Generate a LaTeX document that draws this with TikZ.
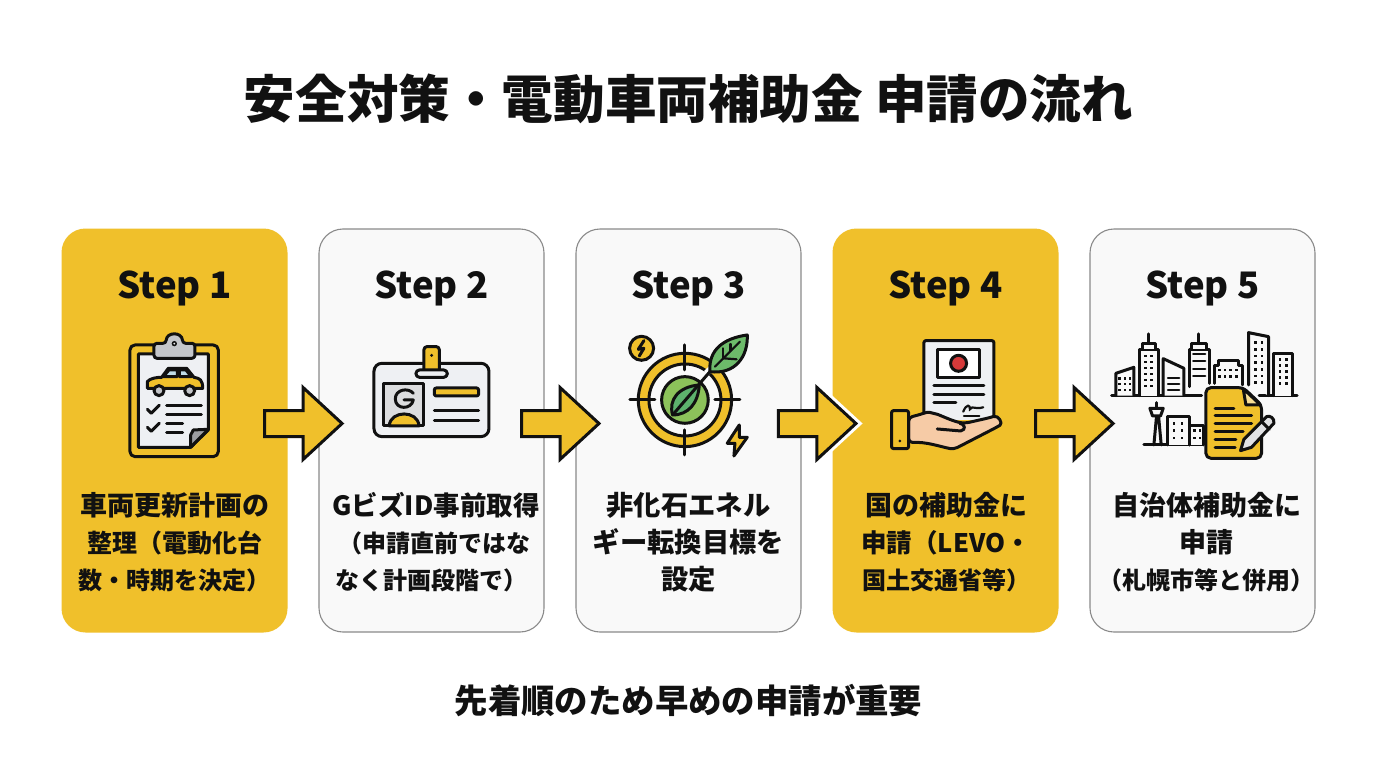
\documentclass[tikz,border=0pt]{standalone}
\usepackage{fontspec}
\setmainfont{Noto Sans CJK JP}
\usetikzlibrary{calc}
\definecolor{amber}{HTML}{F0C02B}
\definecolor{cardw}{HTML}{F9F9F9}
\definecolor{cardline}{HTML}{8A8A8A}
\definecolor{ink}{HTML}{111111}
\definecolor{steel}{HTML}{C4C6CA}
\definecolor{paper}{HTML}{EEF0F3}
\definecolor{leaf}{HTML}{6DBB6A}
\definecolor{leafc}{HTML}{8CC25A}
\definecolor{skin}{HTML}{F6CBA6}
\definecolor{seal}{HTML}{D63A3A}
\definecolor{glass}{HTML}{BFDCE8}
\newcommand{\ls}[1]{\fontsize{#1}{37}\selectfont}
\tikzset{
  x=1pt,y=-1pt,
  cardy/.style={draw=none,fill=amber,rounded corners=24pt,minimum width=226pt,minimum height=404pt,inner sep=0pt},
  cardn/.style={draw=cardline,line width=1.1pt,fill=cardw,rounded corners=24pt,minimum width=225pt,minimum height=403pt,inner sep=0pt},
  steplabel/.style={font=\fontsize{36.5}{36.5}\selectfont\bfseries,text=ink,inner sep=0pt},
  body/.style={font=\fontsize{27}{37}\selectfont\bfseries,text=ink,align=center,inner sep=0pt,text width=226pt},
  ic/.style={draw=ink,line width=3pt,line join=round,line cap=round},
  thin/.style={draw=ink,line width=2.2pt,line cap=round},
  zoomed/.style={x=0.3333pt,y=-0.3333pt,shift={#1}},
  barrow/.style={draw=ink,fill=amber,line width=3pt,line join=miter}
}
\newcommand{\blockarrow}[3][]{%
  \coordinate (m) at ($(#2.east)!0.5!(#3.west)+(0,-7)$);
  \ifx\relax#1\relax\else
  \draw[white,line width=9pt,line join=miter] ($(m)+(0,-36)$) -- ($(m)+(39,0)$) -- ($(m)+(0,36)$);
  \fi
  \draw[barrow] ($(m)+(-38.5,-13)$) -- ($(m)+(0,-13)$) -- ($(m)+(0,-36)$) -- ($(m)+(39,0)$) -- ($(m)+(0,36)$) -- ($(m)+(0,13)$) -- ($(m)+(-38.5,13)$) -- cycle;
}
\begin{document}
\begin{tikzpicture}
\useasboundingbox (0,0) rectangle (1376,768);
\fill[white] (0,0) rectangle (1376,768);
\node[font=\fontsize{51.6}{51.6}\selectfont\bfseries,text=ink,inner sep=0pt] (title) at (688.5,99) {安全対策・電動車両補助金 申請の流れ};
\node[cardy] (c1) at (174.5,430.5) {};
\node[cardn] (c2) at (431.5,430.5) {};
\node[cardn] (c3) at (688.5,430.5) {};
\node[cardy] (c4) at (945.5,430.5) {};
\node[cardn] (c5) at (1202.5,430.5) {};
\node[steplabel] (s1) at (174.5,288) {Step 1};
\node[steplabel] (s2) at (431.5,288) {Step 2};
\node[steplabel] (s3) at (688.5,288) {Step 3};
\node[steplabel] (s4) at (945.5,288) {Step 4};
\node[steplabel] (s5) at (1202.5,288) {Step 5};
\node[body] (t1) at (174.5,542) {\ls{27}車両更新計画の\\\ls{25}整理（電動化台\\\ls{24}数・時期を決定）};
\node[body] (t2) at (434,542) {\ls{26.5}\hspace*{4pt}GビズID事前取得\\\ls{24}（申請直前ではな\\\ls{24}\hspace*{-6pt}なく計画段階で）};
\node[body] (t3) at (688.5,542) {\ls{27.3}非化石エネル\\ギー転換目標を\\設定};
\node[body] (t4) at (946,542) {\ls{27}国の補助金に\\\ls{25.5}申請（LEVO・\\\ls{24}国土交通省等）};
\node[body] (t5) at (1206.5,542) {\ls{27}自治体補助金に\\申請\\\ls{24}（札幌市等と併用）};
\node[font=\fontsize{33.4}{33.4}\selectfont\bfseries,text=ink,inner sep=0pt] (foot) at (688.5,701) {先着順のため早めの申請が重要};
\blockarrow{c1}{c2}
\blockarrow{c2}{c3}
\blockarrow[halo]{c3}{c4}
\blockarrow{c4}{c5}
% icon 1
\begin{scope}[zoomed={(180,960)}]
\draw[ic,fill=amber,rounded corners=5pt] (210,75) rectangle (475,410);
\draw[ic,fill=paper] (235,102) -- (445,102) -- (445,330) -- (392,382) -- (235,382) -- cycle;
\draw[ic,fill=steel!80!black] (445,328) -- (392,382) -- (392,345) -- (400,330) -- cycle;
\draw[ic,fill=steel,rounded corners=3pt] (282,70) -- (318,70) .. controls (320,35) and (366,35) .. (368,70) -- (405,70) -- (405,115) -- (282,115) -- cycle;
\fill[ink] (343,71) circle (8);
\fill[paper] (343,71) circle (3);
\draw[ic,fill=amber] (262,205) -- (262,185) .. controls (270,175) and (290,172) .. (305,172) -- (325,145) -- (380,145) -- (402,172) .. controls (420,175) and (428,180) .. (428,205) -- cycle;
\draw[ic,fill=glass] (310,170) -- (327,150) -- (352,150) -- (352,170) -- cycle;
\draw[ic,fill=glass] (358,170) -- (358,150) -- (378,150) -- (394,170) -- cycle;
\draw[ic,fill=steel] (297,212) circle (15);
\draw[ic,fill=steel] (389,212) circle (15);
\draw[ic] (262,268) -- (274,280) -- (298,256);
\draw[ic] (262,322) -- (274,334) -- (298,310);
\draw[ic] (320,258) -- (424,258);
\draw[ic] (320,284) -- (424,284);
\draw[ic] (320,312) -- (368,312);
\draw[ic] (320,338) -- (368,338);
\end{scope}
% icon 2
\begin{scope}[zoomed={(1050,990)}]
\draw[ic,fill=paper,rounded corners=8pt] (72,100) rectangle (417,320);
\draw[ic,fill=amber,rounded corners=3pt] (222,122) -- (222,50) -- (268,50) -- (268,122);
\fill[ink] (245,76) circle (5);
\draw[ic,fill=paper,rounded corners=3.5pt] (198,120) rectangle (292,142);
\draw[ic,fill=steel!60] (102,160) rectangle (222,288);
\draw[ic,fill=amber] (118,288) .. controls (120,240) and (205,240) .. (207,288) -- cycle;
\draw[ic] (190,190) .. controls (175,172) and (136,178) .. (136,207) .. controls (136,240) and (185,240) .. (190,210) -- (162,210);
\draw[ic,fill=amber,rounded corners=2pt] (253,174) rectangle (386,198);
\draw[ic] (253,242) -- (386,242);
\draw[ic] (253,272) -- (386,272);
\end{scope}
% icon 3
\begin{scope}[zoomed={(1800,960)}]
\draw[ic,fill=amber] (255,240) circle (140);
\draw[ic,fill=cardw] (255,240) circle (108);
\draw[ic,fill=leafc] (255,240) circle (70);
\draw[ic] (255,75) -- (255,150);
\draw[ic] (255,330) -- (255,405);
\draw[ic] (90,240) -- (165,240);
\draw[ic] (345,240) -- (420,240);
\draw[white,line width=6pt] (318,160) -- (345,135);
\draw[ic,fill=leaf] (330,155) .. controls (325,90) and (370,55) .. (442,45) .. controls (445,110) and (405,165) .. (330,155) -- cycle;
\draw[thin] (345,140) -- (420,65);
\draw[thin] (370,115) -- (370,85);
\draw[thin] (370,115) -- (410,118);
\draw[thin] (392,92) -- (392,72);
\draw[ic,fill=leaf!85!teal] (218,285) .. controls (205,240) and (235,200) .. (298,195) .. controls (295,250) and (265,285) .. (218,285) -- cycle;
\draw[ic] (218,285) -- (330,155);
\draw[ic,fill=amber] (125,85) circle (36);
\draw[ic,fill=none] (132,62) -- (115,88) -- (132,85) -- (118,108);
\draw[ic,fill=amber] (418,315) -- (382,370) -- (405,370) -- (402,408) -- (442,352) -- (418,352) -- cycle;
\end{scope}
% icon 4
\begin{scope}[zoomed={(2310,960)}]
\draw[ic,fill=paper,rounded corners=2pt] (462,300) -- (462,62) -- (672,62) -- (672,300);
\draw[ic,fill=white] (503,88) rectangle (630,172);
\draw[ic,fill=seal] (566,130) circle (24);
\draw[ic] (492,198) -- (642,198);
\draw[ic] (492,224) -- (642,224);
\draw[ic] (492,247) -- (558,247);
\draw[thin] (580,275) .. controls (590,250) and (602,255) .. (600,268) .. controls (610,255) and (612,270) .. (640,262);
\draw[thin] (582,287) -- (628,287);
\draw[ic,fill=skin,rounded corners=4pt] (416,292) .. controls (450,285) and (470,275) .. (490,280) .. controls (510,285) and (550,305) .. (585,310) -- (660,293) .. controls (685,285) and (700,310) .. (680,322) -- (552,388) .. controls (510,380) and (470,365) .. (416,368) -- cycle;
\draw[ic] (502,327) -- (572,333) .. controls (590,330) and (585,312) .. (570,310);
\draw[ic,fill=amber,rounded corners=2pt] (365,272) rectangle (416,386);
\fill[ink] (390,363) circle (4.5);
\end{scope}
% icon 5
\begin{scope}[zoomed={(3090,960)}]
\draw[ic] (245,227) -- (515,227);
\draw[ic] (688,227) -- (802,227);
\draw[ic,fill=cardw] (258,227) -- (258,160) -- (312,142) -- (312,227);
\draw[ic,fill=cardw] (330,227) -- (330,88) -- (385,88) -- (385,227);
\draw[ic,fill=cardw] (338,88) -- (338,70) -- (377,70) -- (377,88);
\draw[ic] (356,70) -- (356,42);
\draw[ic,fill=cardw] (400,227) -- (400,116) -- (462,145) -- (462,227);
\draw[ic,fill=cardw] (478,200) -- (478,88) -- (538,88) -- (538,190);
\draw[ic,fill=cardw] (486,88) -- (486,70) -- (530,70) -- (530,88);
\draw[ic] (507,70) -- (507,42);
\draw[ic,fill=cardw] (553,190) -- (553,138) -- (565,138) -- (565,122) -- (625,122) -- (625,138) -- (638,138) -- (638,195);
\draw[ic,fill=cardw] (656,195) -- (656,38) -- (716,50) -- (716,227);
\draw[ic,fill=cardw] (730,227) -- (730,100) -- (788,100) -- (788,227);
\foreach \xx in {268,285,300} \foreach \yy in {175,192,210} \fill[ink] (\xx-4,\yy-4) rectangle ++(8,8);
\foreach \xx in {346,364} \foreach \yy in {108,126,144,162,180,198} \fill[ink] (\xx-4,\yy-4) rectangle ++(8,8);
\foreach \yy in {175,192,210} \draw[thin] (414,\yy) -- (448,\yy);
\foreach \yy in {102,124,146,168} \draw[thin] (490,\yy) -- (526,\yy);
\foreach \xx in {568,585,602,620} \foreach \yy in {150,170} \fill[ink] (\xx-4,\yy-4) rectangle ++(8,8);
\foreach \xx in {676,696} \foreach \yy in {68,88,108,128,148,168,188} \fill[ink] (\xx-4,\yy-4) rectangle ++(8,8);
\foreach \xx in {750,770} \foreach \yy in {118,136,154,172,190} \fill[ink] (\xx-4,\yy-4) rectangle ++(8,8);
\draw[ic] (342,375) -- (520,375);
\draw[ic] (372,375) -- (380,288) -- (386,288) -- (394,375);
\draw[ic,fill=cardw] (360,265) -- (400,265) -- (392,288) -- (368,288) -- cycle;
\draw[ic] (379,265) -- (379,248);
\draw[ic,fill=cardw] (414,375) -- (414,290) -- (478,290) -- (478,375);
\draw[ic,fill=cardw] (478,375) -- (478,318) -- (520,318) -- (520,375);
\foreach \xx in {432,456} \foreach \yy in {310,332,354} \fill[ink] (\xx-4,\yy-4) rectangle ++(8,8);
\foreach \xx in {494,510} \foreach \yy in {332,354} \fill[ink] (\xx-4,\yy-4) rectangle ++(8,8);
\draw[ic,fill=amber,rounded corners=5pt] (528,203) -- (640,203) -- (695,255) -- (695,415) -- (528,415) -- cycle;
\draw[ic,fill=amber!50!white] (640,206) -- (648,255) -- (692,255) -- cycle;
\draw[ic] (556,265) -- (612,265);
\draw[ic] (556,288) -- (665,288);
\draw[ic] (556,312) -- (665,312);
\draw[ic] (556,336) -- (640,336);
\draw[ic] (556,358) -- (618,358);
\draw[ic] (556,382) -- (616,382);
\draw[ic,fill=steel!50] (710,290) .. controls (720,285) and (735,295) .. (732,310) -- (665,382) -- (632,392) -- (642,358) -- cycle;
\draw[ic] (695,305) -- (718,328);
\end{scope}
\end{tikzpicture}
\end{document}
